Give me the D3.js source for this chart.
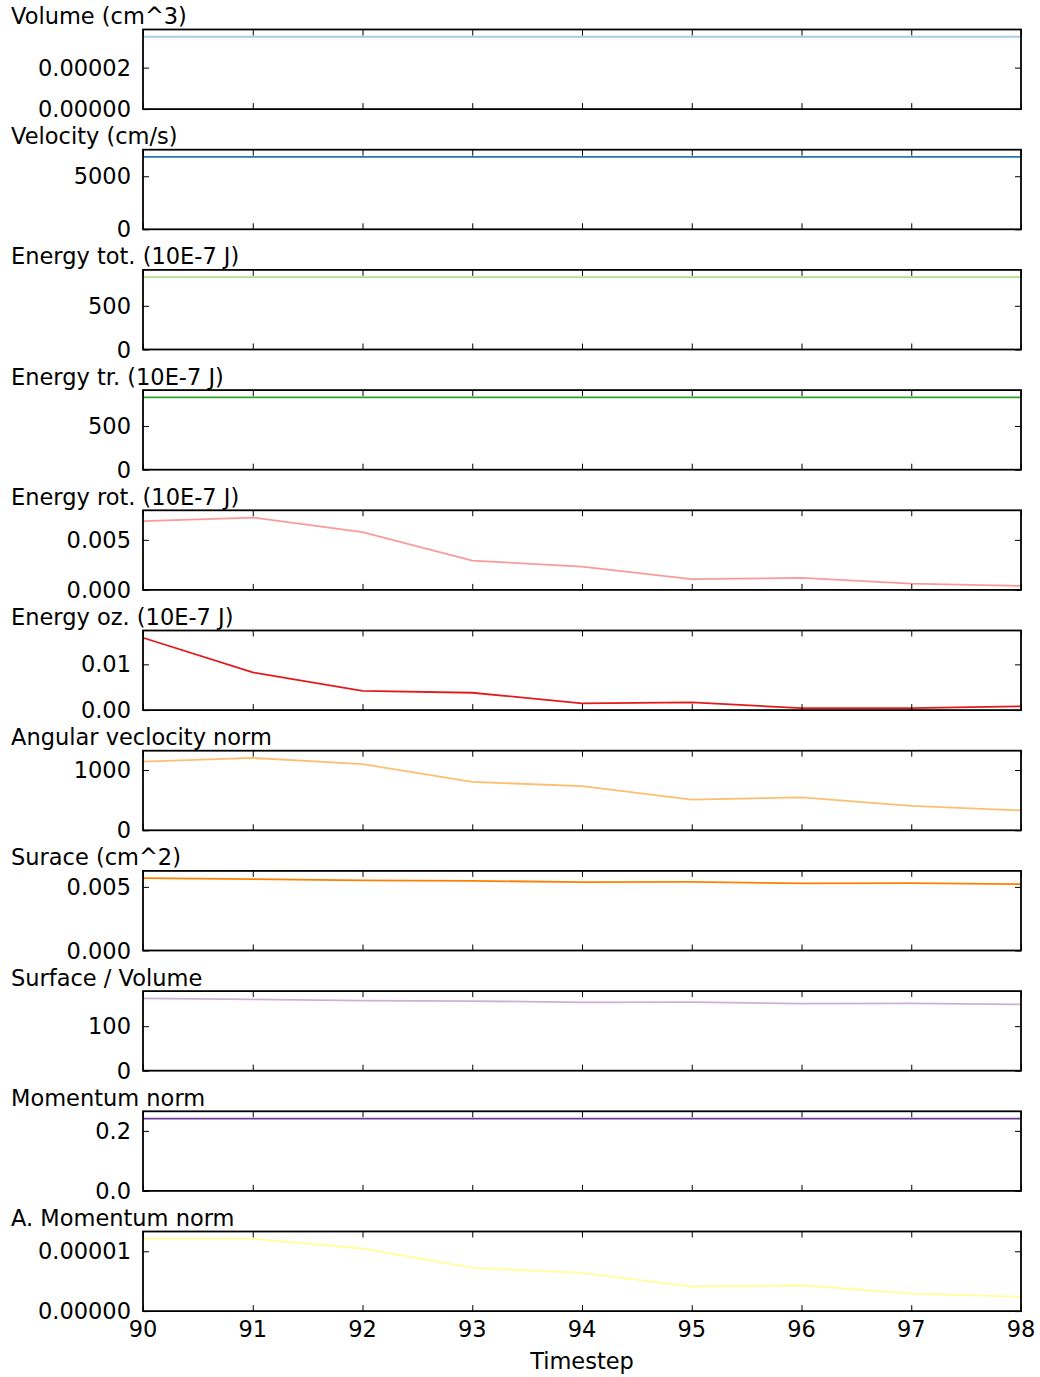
<!DOCTYPE html>
<html lang="en">
<head>
    <meta charset="utf-8">
    <title>Particle statistics</title>
    <style>
    html, body {
        margin: 0;
        padding: 0;
        background-color: #ffffff;
    }
    svg text {
        font-family: "DejaVu Sans", sans-serif;
        fill: #000;
    }
    .frame {
        fill: none;
        stroke: #000;
        stroke-width: 1.8;
    }
    .tick line {
        stroke: #000;
        stroke-width: 1;
    }
    </style>
</head>
<body>
    <div id="Graph"></div>
    <script src="https://d3js.org/d3.v7.min.js"></script>
    <script>
    // x values
    var timesteps = [90, 91, 92, 93, 94, 95, 96, 97, 98];

    // series
    var volume    = [0.0000349, 0.0000349, 0.0000349, 0.0000349, 0.0000349, 0.0000349, 0.0000349, 0.0000349, 0.0000349];
    var velocity  = [6820, 6820, 6820, 6820, 6820, 6820, 6820, 6820, 6820];
    var energyTot = [828, 828, 828, 828, 828, 828, 828, 828, 828];
    var energyTr  = [827, 827, 827, 827, 827, 827, 827, 827, 827];
    var energyRot = [0.00687, 0.00723, 0.00577, 0.00293, 0.00233, 0.00107, 0.00120, 0.00063, 0.00040];
    var energyOz  = [0.01582, 0.00825, 0.00422, 0.00379, 0.00147, 0.00168, 0.00044, 0.00044, 0.00081];
    var angVel    = [1139, 1201, 1100, 804, 732, 508, 548, 407, 330];
    var surface   = [0.005687, 0.005608, 0.005505, 0.005474, 0.005371, 0.005395, 0.005268, 0.005292, 0.005213];
    var surfVol   = [162.5, 160.2, 157.3, 156.4, 153.5, 154.2, 150.5, 151.2, 149.0];
    var momentum  = [0.241, 0.241, 0.241, 0.241, 0.241, 0.241, 0.241, 0.241, 0.241];
    var angMom    = [0.0000121, 0.0000121, 0.00001047, 0.00000723, 0.00000639, 0.00000408, 0.00000432, 0.00000291, 0.00000240];

    var titles = ["Volume (cm^3)", "Velocity (cm/s)", "Energy tot. (10E-7 J)", "Energy tr. (10E-7 J)",
        "Energy rot. (10E-7 J)", "Energy oz. (10E-7 J)", "Angular veclocity norm", "Surace (cm^2)",
        "Surface / Volume", "Momentum norm", "A. Momentum norm"];
    var series = [volume, velocity, energyTot, energyTr, energyRot, energyOz, angVel, surface, surfVol, momentum, angMom];
    var colors = ["#a6cee3", "#1f78b4", "#b2df8a", "#33a02c", "#fb9a99", "#e31a1c",
        "#fdbf6f", "#ff7f00", "#cab2d6", "#6a3d9a", "#ffff99"];

    // y tick values and their labels
    var yTicks = [[0, 0.00002], [0, 5000], [0, 500], [0, 500], [0, 0.005], [0, 0.01],
        [0, 1000], [0, 0.005], [0, 100], [0, 0.2], [0, 0.00001]];
    var yTickLabels = [["0.00000", "0.00002"], ["0", "5000"], ["0", "500"], ["0", "500"],
        ["0.000", "0.005"], ["0.00", "0.01"], ["0", "1000"], ["0.000", "0.005"],
        ["0", "100"], ["0.0", "0.2"], ["0.00000", "0.00001"]];
    var xTickLabels = ["90", "91", "92", "93", "94", "95", "96", "97", "98"];

    var W = 1040, H = 1377;
    var left = 143, right = 1021;
    var top0 = 29.5, pitch = 120.2, ph = 79.6;
    var tickLen = 6;
    var fs = 22.5;

    var svg = d3.select("#Graph").append("svg")
        .attr("width", W).attr("height", H);

    var x = d3.scaleLinear().domain([90, 98]).range([left, right]);

    series.forEach(function(vals, i) {
        var top = top0 + i * pitch;
        var y = d3.scaleLinear()
            .domain([0, d3.max(vals) * 1.1])
            .range([top + ph, top]);

        var g = svg.append("g");

        // title
        g.append("text")
            .attr("x", 11)
            .attr("y", top - 5.5)
            .attr("font-size", fs)
            .text(titles[i]);

        // line
        var line = d3.line()
            .x(function(d, j) { return x(timesteps[j]); })
            .y(function(d) { return y(d); });
        g.append("path")
            .datum(vals)
            .attr("d", line)
            .attr("fill", "none")
            .attr("stroke", colors[i])
            .attr("stroke-width", 1.8);

        // y axes, ticks pointing inward
        var labels = yTickLabels[i];
        g.append("g")
            .attr("transform", "translate(" + left + ",0)")
            .call(d3.axisRight(y).tickValues(yTicks[i]).tickSize(tickLen).tickFormat(""))
            .call(function(a) { a.select(".domain").remove(); });
        g.append("g")
            .attr("transform", "translate(" + right + ",0)")
            .call(d3.axisLeft(y).tickValues(yTicks[i]).tickSize(tickLen).tickFormat(""))
            .call(function(a) { a.select(".domain").remove(); });
        g.selectAll(".ylab")
            .data(yTicks[i])
            .enter()
            .append("text")
            .attr("x", left - 12)
            .attr("y", function(d) { return y(d); })
            .attr("dy", "0.36em")
            .attr("text-anchor", "end")
            .attr("font-size", fs)
            .text(function(d, j) { return labels[j]; });

        // x ticks top and bottom, inward
        g.append("g")
            .attr("transform", "translate(0," + (top + ph) + ")")
            .call(d3.axisTop(x).tickValues(timesteps).tickSize(tickLen).tickFormat(""))
            .call(function(a) { a.select(".domain").remove(); });
        g.append("g")
            .attr("transform", "translate(0," + top + ")")
            .call(d3.axisBottom(x).tickValues(timesteps).tickSize(tickLen).tickFormat(""))
            .call(function(a) { a.select(".domain").remove(); });

        g.append("rect")
            .attr("class", "frame")
            .attr("x", left).attr("y", top)
            .attr("width", right - left).attr("height", ph);

        if (i == series.length - 1) {
            g.selectAll(".xlab")
                .data(timesteps)
                .enter()
                .append("text")
                .attr("x", function(d) { return x(d); })
                .attr("y", top + ph + 26)
                .attr("text-anchor", "middle")
                .attr("font-size", fs)
                .text(function(d, j) { return xTickLabels[j]; });
            g.append("text")
                .attr("x", (left + right) / 2)
                .attr("y", top + ph + 58)
                .attr("text-anchor", "middle")
                .attr("font-size", fs)
                .text("Timestep");
        }
    });
    </script>
</body>
</html>
